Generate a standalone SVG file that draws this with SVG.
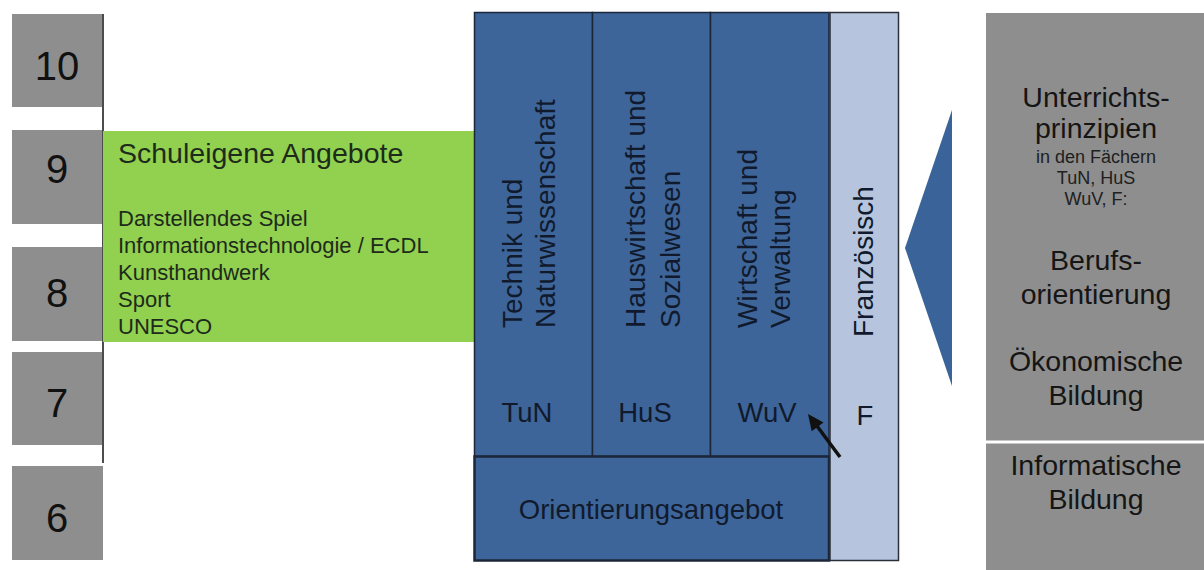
<svg xmlns="http://www.w3.org/2000/svg" width="1204" height="570" viewBox="0 0 1204 570">
  <defs>
    <style>
      text { font-family: "Liberation Sans", Arial, sans-serif; }
      .grade { fill: #8e8e8e; }
      .gnum { font-size: 40px; fill: #111; text-anchor: middle; }
      .blue { fill: #3d6599; stroke: #1b2638; stroke-width: 1.5; }
      .btxt { font-size: 27.5px; fill: #111a2c; }
      .vt { font-size: 28px; fill: #111a2c; }
      .green { fill: #92d050; }
      .gtxt { font-size: 22px; fill: #1d2b1b; }
      .rtxt { font-size: 28.5px; fill: #151515; text-anchor: middle; }
      .rsmall { font-size: 18px; fill: #202020; text-anchor: middle; }
    </style>
  </defs>
  <rect width="1204" height="570" fill="#fff"/>

  <g id="grade-10"><rect class="grade" x="12" y="14" width="90" height="93"/><text class="gnum" x="57" y="80">10</text></g>
  <g id="grade-9"><rect class="grade" x="12" y="130" width="90" height="94"/><text class="gnum" x="57" y="183">9</text></g>
  <g id="grade-8"><rect class="grade" x="12" y="247" width="90" height="94"/><text class="gnum" x="57" y="307">8</text></g>
  <g id="grade-7"><rect class="grade" x="12" y="352" width="90" height="93"/><text class="gnum" x="57" y="417">7</text></g>
  <g id="grade-6"><rect class="grade" x="12" y="466" width="91" height="94"/><text class="gnum" x="57" y="532">6</text></g>
  <g id="timeline"><line x1="103" y1="14" x2="103" y2="463" stroke="#111" stroke-width="1.5"/></g>

  <g id="schuleigene">
    <rect class="green" x="103" y="131" width="372" height="211"/>
    <text x="118" y="163" style="font-size:28.5px;fill:#1d2b1b">Schuleigene Angebote</text>
    <text class="gtxt" x="118" y="226">Darstellendes Spiel</text>
    <text class="gtxt" x="118" y="253">Informationstechnologie  / ECDL</text>
    <text class="gtxt" x="118" y="280">Kunsthandwerk</text>
    <text class="gtxt" x="118" y="307">Sport</text>
    <text class="gtxt" x="118" y="334">UNESCO</text>
  </g>

  <g id="tun">
    <rect class="blue" x="474.5" y="12.5" width="118" height="444"/>
    <text class="vt" transform="translate(522,328) rotate(-90)">Technik und</text>
    <text class="vt" transform="translate(555,328) rotate(-90)">Naturwissenschaft</text>
    <text class="btxt" x="527" y="422" text-anchor="middle">TuN</text>
  </g>
  <g id="hus">
    <rect class="blue" x="592.5" y="12.5" width="118" height="444"/>
    <text class="vt" transform="translate(645,328) rotate(-90)">Hauswirtschaft und</text>
    <text class="vt" transform="translate(680,328) rotate(-90)">Sozialwesen</text>
    <text class="btxt" x="645" y="422" text-anchor="middle">HuS</text>
  </g>
  <g id="wuv">
    <rect class="blue" x="710.5" y="12.5" width="118.5" height="444"/>
    <text class="vt" transform="translate(757,328) rotate(-90)">Wirtschaft und</text>
    <text class="vt" transform="translate(790,328) rotate(-90)">Verwaltung</text>
    <text class="btxt" x="767" y="422" text-anchor="middle">WuV</text>
  </g>
  <g id="orientierung">
    <rect class="blue" x="474.5" y="456.5" width="354.5" height="104" style="stroke-width:2.5"/>
    <text class="btxt" x="651" y="519" text-anchor="middle">Orientierungsangebot</text>
  </g>
  <g id="franz">
    <rect x="830" y="12.5" width="68.5" height="548" fill="#b6c5dd" stroke="#2a2f38" stroke-width="1.5"/>
    <text class="vt" transform="translate(873,337) rotate(-90)">Französisch</text>
    <text class="btxt" x="865" y="425" text-anchor="middle">F</text>
  </g>

  <g id="pointer"><polygon points="952,110 952,386 905,248" fill="#3a6399"/></g>

  <g id="prinzipien">
    <rect x="986" y="13" width="218" height="557" fill="#8e8e8e"/>
    <line x1="986" y1="442" x2="1204" y2="442" stroke="#fff" stroke-width="3"/>
    <text class="rtxt" x="1096" y="107">Unterrichts-</text>
    <text class="rtxt" x="1096" y="138">prinzipien</text>
    <text class="rsmall" x="1096" y="163">in den Fächern</text>
    <text class="rsmall" x="1096" y="184">TuN, HuS</text>
    <text class="rsmall" x="1096" y="205">WuV, F:</text>
    <text class="rtxt" x="1096" y="270">Berufs-</text>
    <text class="rtxt" x="1096" y="304">orientierung</text>
    <text class="rtxt" x="1096" y="371">Ökonomische</text>
    <text class="rtxt" x="1096" y="405">Bildung</text>
    <text class="rtxt" x="1096" y="475">Informatische</text>
    <text class="rtxt" x="1096" y="509">Bildung</text>
  </g>

  <g id="connectors">
    <line x1="840" y1="457" x2="817" y2="426" stroke="#111" stroke-width="3.5"/>
    <polygon points="808,414 823.5,422.4 811.7,431.2" fill="#111"/>
  </g>
</svg>
